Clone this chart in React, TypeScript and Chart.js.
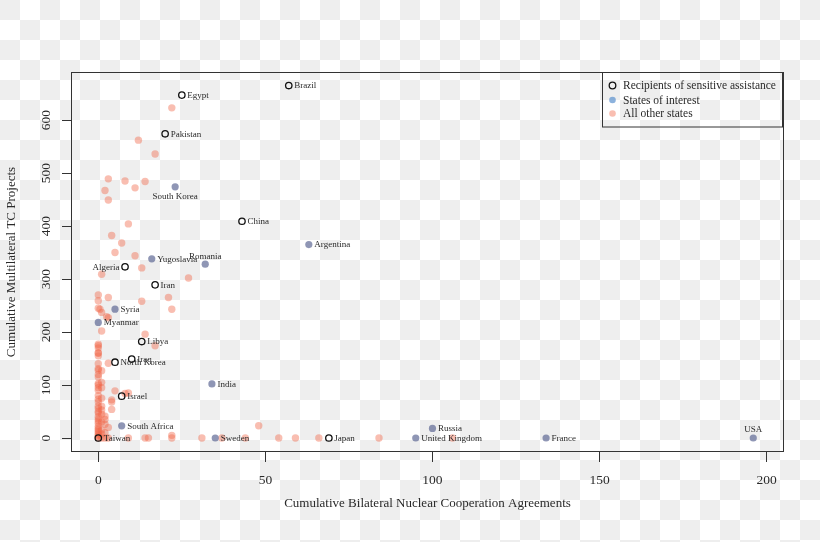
import React, { useEffect, useRef } from "react";
import { Chart, registerables } from "chart.js";

Chart.register(...registerables);

// ---- Data ----
const recipientNames = ["Brazil", "Egypt", "Pakistan", "China", "Algeria", "Iran", "Libya", "Iraq", "North Korea", "Israel", "Taiwan", "Japan"];
const recipientX = [57, 25, 20, 43, 8, 17, 13, 10, 5, 7, 0, 69];
const recipientY = [665, 647, 574, 409, 323, 289, 182, 149, 143, 79, 0, 0];
const recipientLabelPos = ["right", "right", "right", "right", "left", "right", "right", "right", "right", "right", "right", "right"];

const interestNames = ["South Korea", "Yugoslavia", "Romania", "Argentina", "India", "Syria", "Myanmar", "South Africa", "Sweden", "Russia", "United Kingdom", "France", "USA"];
const interestX = [23, 16, 32, 63, 34, 5, 0, 7, 35, 100, 95, 134, 196];
const interestY = [474, 338, 328, 365, 102, 243, 218, 23, 0, 18, 0, 0, 0];
const interestLabelPos = ["below", "right", "above", "right", "right", "right", "right", "right", "right", "right", "right", "right", "above"];

const otherX = [
  22, 12, 17, 3, 8, 14, 11, 2, 3, 9, 4, 7, 5, 11, 13, 1, 27,
  0, 3, 0, 13, 21, 22, 0, 1, 3, 1, 14, 17, 0, 0, 0, 3, 0, 1, 0, 1, 5, 9, 0, 0, 4, 4, 1, 0, 2, 0, 2, 0, 0, 1, 0,
  9, 14, 15, 22, 22, 31, 37, 44, 48, 54, 59, 66, 84, 106,
  0, 0, 0, 0, 0, 0, 0, 0, 0, 0, 0, 0, 0, 0, 0, 0, 0, 0, 0, 0,
  1, 1, 1, 1, 1, 1, 2, 3, 2, 3, 1, 2, 0.5, 2.5, 0, 0, 8, 4
];
const otherY = [
  623, 562, 536, 489, 485, 484, 472, 467, 449, 404, 382, 368, 350, 344, 321, 309, 302,
  270, 265, 259, 258, 265, 243, 245, 237, 227, 202, 196, 174, 177, 161, 155, 141, 131, 127, 103, 105, 89, 85, 80, 68, 68, 54, 53, 47, 41, 32, 26, 22, 12, 7, 3,
  0, 0, 0, 5, 0, 0, 0, 0, 23, 0, 0, 0, 0, 0,
  0, 5, 8, 15, 18, 28, 36, 40, 50, 56, 60, 73, 90, 95, 100, 115, 120, 128, 140, 170,
  15, 30, 60, 75, 95, 0, 0, 0, 10, 20, 45, 35, 243, 229, 174, 160, 84, 72
];

const xTicks = [0, 50, 100, 150, 200];
const yTicks = [0, 100, 200, 300, 400, 500, 600];

const legendLabels = ["Recipients of sensitive assistance", "States of interest", "All other states"];

const xTitle = "Cumulative Bilateral Nuclear Cooperation Agreements";
const yTitle = "Cumulative Multilateral TC Projects";

// ---- Styles ----
const SERIF = "'Liberation Serif', 'DejaVu Serif', 'Times New Roman', serif";
const INK = "#2a2a2a";
const PINK = "rgba(240,100,70,0.42)";
const BLUE = "rgba(80,90,140,0.64)";
const LEGEND_BLUE = "rgba(70,130,200,0.62)";

const toPoints = (xs: number[], ys: number[]) => xs.map((x, i) => ({ x, y: ys[i] }));

const labelsPlugin = {
  id: "pointLabels",
  afterDatasetsDraw(chart: any) {
    const ctx = chart.ctx;
    const ca = chart.chartArea;
    ctx.save();
    ctx.font = `9px ${SERIF}`;
    ctx.fillStyle = INK;
    chart.data.datasets.forEach((ds: any, di: number) => {
      if (!ds.pointNames) return;
      const meta = chart.getDatasetMeta(di);
      meta.data.forEach((el: any, i: number) => {
        const name = ds.pointNames[i];
        const pos = ds.labelPos[i];
        let x = el.x;
        let y = el.y;
        ctx.textBaseline = "middle";
        if (pos === "right") {
          ctx.textAlign = "left";
          x += 5.5;
        } else if (pos === "left") {
          ctx.textAlign = "right";
          x -= 5.5;
        } else if (pos === "below") {
          ctx.textAlign = "center";
          y += 9;
        } else {
          ctx.textAlign = "center";
          y -= 8.5;
        }
        ctx.fillText(name, x, y + 0.5);
      });
    });

    // plot box
    ctx.strokeStyle = "#333";
    ctx.lineWidth = 1;
    ctx.strokeRect(Math.round(ca.left) - 0.5, Math.round(ca.top) + 0.5, Math.round(ca.right - ca.left) + 1, Math.round(ca.bottom - ca.top) - 1);

    // legend
    const lw = 181.5;
    const lh = 54.5;
    const lx = Math.round(ca.right - lw) + 0.5;
    const ly = Math.round(ca.top) + 0.5;
    ctx.strokeRect(lx, ly, Math.round(ca.right) - lx - 0.5, lh);
    const rowY = [ly + 13, ly + 27.5, ly + 41];
    const cx = lx + 10;
    ctx.font = `11.5px ${SERIF}`;
    ctx.textAlign = "left";
    ctx.textBaseline = "middle";
    legendLabels.forEach((t, i) => {
      ctx.beginPath();
      ctx.arc(cx, rowY[i], 3.3, 0, Math.PI * 2);
      if (i === 0) {
        ctx.lineWidth = 1.3;
        ctx.strokeStyle = "#111";
        ctx.stroke();
      } else {
        ctx.fillStyle = i === 1 ? LEGEND_BLUE : PINK;
        ctx.fill();
      }
      ctx.fillStyle = INK;
      ctx.fillText(t, lx + 20.5, rowY[i] + 0.5);
    });
    ctx.restore();
  },
};

export default function App() {
  const ref = useRef<HTMLCanvasElement | null>(null);

  useEffect(() => {
    if (!ref.current) return;
    const chart = new Chart(ref.current, {
      type: "scatter",
      data: {
        datasets: [
          {
            label: legendLabels[0],
            data: toPoints(recipientX, recipientY),
            pointNames: recipientNames,
            labelPos: recipientLabelPos,
            pointRadius: 3.2,
            borderWidth: 1.3,
            borderColor: "#111",
            backgroundColor: "rgba(0,0,0,0)",
          } as any,
          {
            label: legendLabels[1],
            data: toPoints(interestX, interestY),
            pointNames: interestNames,
            labelPos: interestLabelPos,
            pointRadius: 3.6,
            borderWidth: 0,
            backgroundColor: BLUE,
          } as any,
          {
            label: legendLabels[2],
            data: toPoints(otherX, otherY),
            pointRadius: 3.7,
            borderWidth: 0,
            backgroundColor: PINK,
          },
        ],
      },
      options: {
        responsive: false,
        animation: false,
        devicePixelRatio: 1,
        events: [],
        layout: { padding: { top: 72, right: 37, left: 0, bottom: 0 } },
        plugins: { legend: { display: false }, tooltip: { enabled: false } },
        scales: {
          x: {
            type: "linear",
            min: -7.87,
            max: 204.9,
            afterBuildTicks: (s: any) => {
              s.ticks = xTicks.map((v) => ({ value: v }));
            },
            afterFit: (s: any) => {
              s.height = 90;
            },
            grid: { drawOnChartArea: false, drawTicks: true, tickLength: 10, color: "#333", lineWidth: 1 },
            border: { display: false },
            ticks: { color: INK, padding: 10, font: { family: SERIF, size: 13.5 }, maxRotation: 0 },
            title: { display: true, text: xTitle, color: INK, font: { family: SERIF, size: 13 }, padding: { top: 0, bottom: 31 } },
          },
          y: {
            type: "linear",
            min: -26.4,
            max: 690.6,
            afterBuildTicks: (s: any) => {
              s.ticks = yTicks.map((v) => ({ value: v }));
            },
            afterFit: (s: any) => {
              s.width = 72;
            },
            grid: { drawOnChartArea: false, drawTicks: true, tickLength: 10, color: "#333", lineWidth: 1 },
            border: { display: false },
            ticks: { color: INK, padding: 5.5, crossAlign: "center", minRotation: 90, maxRotation: 90, font: { family: SERIF, size: 13.5 } },
            title: { display: true, text: yTitle, color: INK, font: { family: SERIF, size: 13 }, padding: { top: 4, bottom: 0 } },
          },
        },
      } as any,
      plugins: [labelsPlugin],
    });
    return () => chart.destroy();
  }, []);

  return (
    <div
      style={{
        position: "absolute",
        left: 0,
        top: 0,
        width: 820,
        height: 542,
        backgroundImage: "repeating-conic-gradient(#ffffff 0 25%, #eeeeee 0 50%)",
        backgroundSize: "40px 40px",
        backgroundPosition: "0 0",
      }}
    >
      <canvas ref={ref} width={820} height={542} style={{ display: "block" }} />
    </div>
  );
}
